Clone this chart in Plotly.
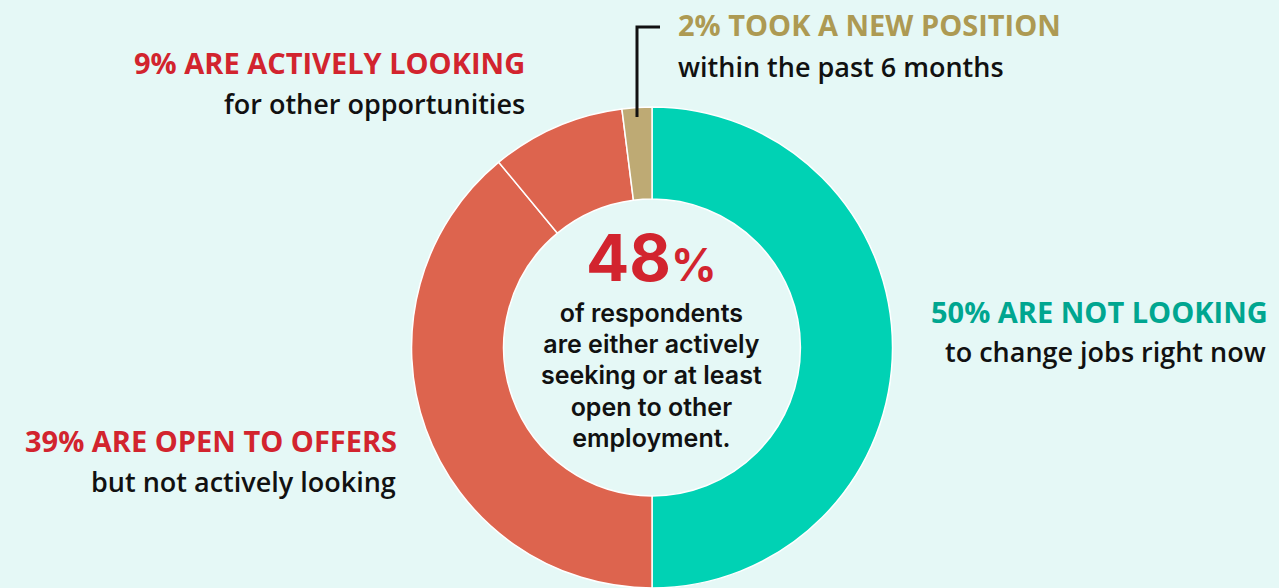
import plotly.graph_objects as go

W, H = 1279, 588

labels = ["Not looking", "Open to offers", "Actively looking", "Took a new position"]
values = [50, 39, 9, 2]
colors = ["#00D2B4", "#DD644E", "#DD644E", "#BEAA74"]

BG = "#E5F8F6"
RED = "#D2242E"
TEAL = "#00A690"
TAN = "#AD9A53"
FONT = "Open Sans"
CFONT = "Inter"

def px(x):
    return x / W

def py(y):
    return 1 - y / H

fig = go.Figure(go.Pie(
    labels=labels, values=values, sort=False, direction="clockwise", rotation=0,
    hole=0.617, marker=dict(colors=colors, line=dict(color="white", width=1.5)),
    textinfo="none", hoverinfo="label+percent", showlegend=False,
    domain=dict(x=[0.0196, 1], y=[0, 481 / H]),
))

def ann(text, x, y, color, size, xanchor, weight=700, family=FONT):
    fig.add_annotation(text=text, x=px(x), y=py(y), xref="paper", yref="paper",
                       xanchor=xanchor, yanchor="middle", showarrow=False,
                       font=dict(family=family, size=size, color=color, weight=weight))

HS, BS = 29, 27
ann("2% TOOK A NEW POSITION", 676, 25, TAN, HS, "left")
ann("within the past 6 months", 676, 66, "#111111", BS, "left", 600)
ann("9% ARE ACTIVELY LOOKING", 527, 63, RED, HS, "right")
ann("for other opportunities", 527, 103, "#111111", BS, "right", 600)
ann("50% ARE NOT LOOKING", 1270, 311, TEAL, HS, "right")
ann("to change jobs right now", 1268, 351, "#111111", BS, "right", 600)
ann("39% ARE OPEN TO OFFERS", 399, 440, RED, HS, "right")
ann("but not actively looking", 398, 481, "#111111", BS, "right", 600)

ann("48<span style='font-size:45px'>%</span>", 651, 257, RED, 64, "center", 700, family=CFONT)
center_lines = ["of respondents", "are either actively", "seeking or at least",
                "open to other", "employment."]
center_text = "<br>".join(f"<span style='font-size:25px'>{t}</span>" for t in center_lines)
ann(center_text, 651, 375, "#111111", 24, "center", 600, family=CFONT)

fig.add_shape(type="path", xref="paper", yref="paper",
              path=f"M {px(660)} {py(27)} L {px(637)} {py(27)} L {px(637)} {py(117)}",
              line=dict(color="#111111", width=3))

fig.update_layout(width=W, height=H, margin=dict(l=0, r=0, t=0, b=0),
                  paper_bgcolor=BG, plot_bgcolor=BG)
fig.write_html("out.html", config={"displayModeBar": False},
               post_script="document.body.style.margin='0';document.body.style.overflow='hidden';"
                           "document.body.style.background='" + BG + "';")
